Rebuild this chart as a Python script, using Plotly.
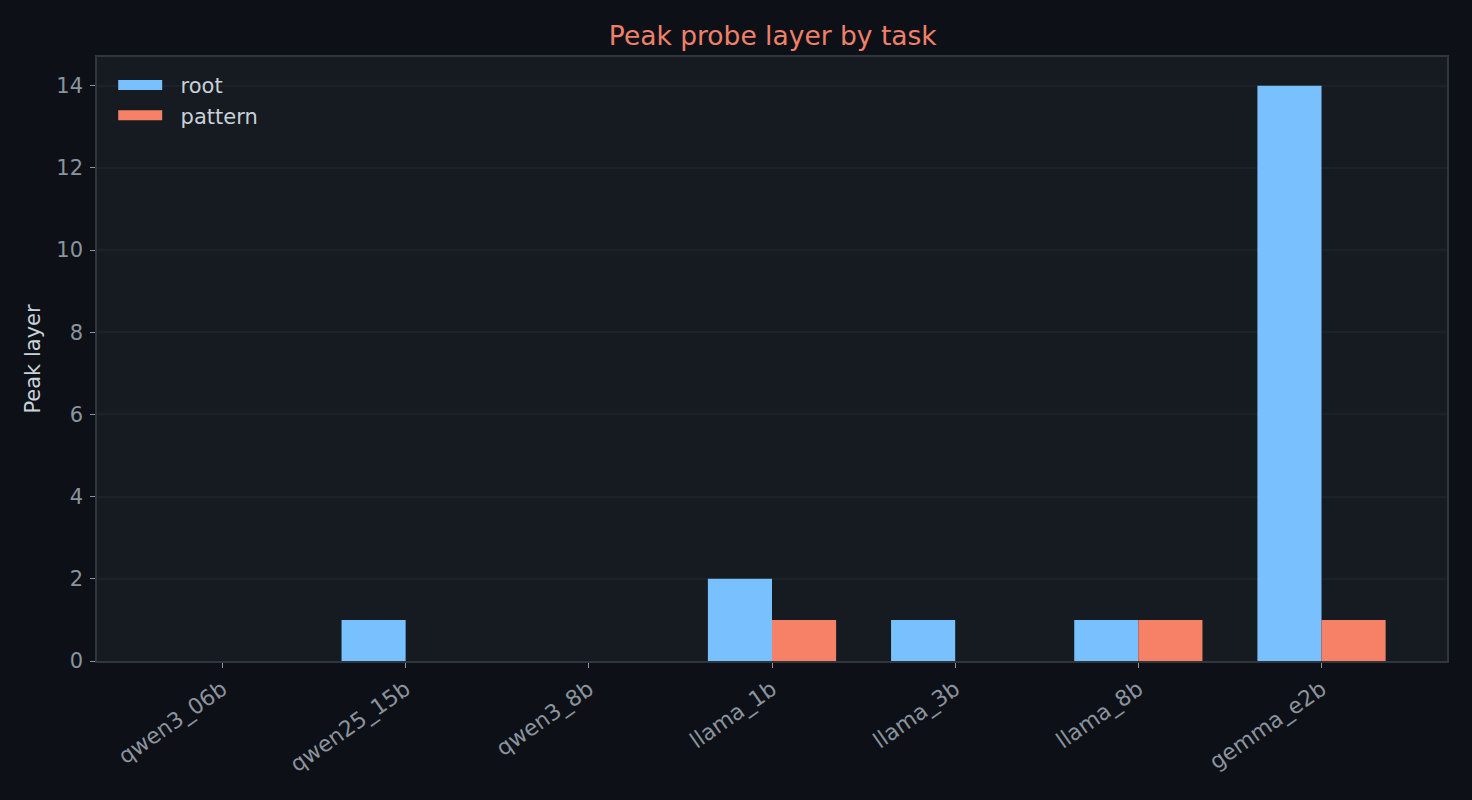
import plotly.graph_objects as go

categories = ["qwen3_06b", "qwen25_15b", "qwen3_8b", "llama_1b", "llama_3b", "llama_8b", "gemma_e2b"]
root_values = [0, 1, 0, 2, 1, 1, 14]
pattern_values = [0, 0, 0, 1, 0, 1, 1]
series_names = ["root", "pattern"]
series_colors = ["#79c0ff", "#f78166"]

grid_col = "rgba(48,54,61,0.25)"
tick_col = "#8b949e"
pad = "\u00a0\u00a0"

fig = go.Figure()
for name, vals, col in zip(series_names, [root_values, pattern_values], series_colors):
    fig.add_trace(go.Bar(x=categories, y=vals, name=name, showlegend=False,
                         legendgroup=name,
                         marker=dict(color=col, line=dict(width=0))))
# legend swatches (wide rectangles like the reference)
for name, col in zip(series_names, series_colors):
    fig.add_trace(go.Scatter(x=[None], y=[None], name=pad + name, mode="lines",
                             legendgroup=name,
                             line=dict(color=col, width=15)))

fig.update_layout(
    width=1472, height=800,
    paper_bgcolor="#0d1117",
    plot_bgcolor="#161b22",
    barmode="group", bargap=0.3, bargroupgap=0,
    margin=dict(l=97, r=25, t=57, b=139),
    font=dict(family="DejaVu Sans", color="#c9d1d9", size=21),
    title=dict(text="Peak probe layer by task", x=0.525, xanchor="center",
               y=1 - 36 / 800, yanchor="middle",
               font=dict(size=26.5, color="#f0806a", family="DejaVu Sans")),
    legend=dict(x=0.012, y=0.987, xanchor="left", yanchor="top",
                bgcolor="rgba(0,0,0,0)", font=dict(size=21, color="#c9d1d9"),
                itemwidth=44, tracegroupgap=0),
    showlegend=True,
)
fig.update_xaxes(
    range=[-0.685, 6.685], showgrid=False,
    showline=True, linecolor="#30363d", linewidth=1.5, mirror=True,
    ticks="outside", ticklen=5, tickcolor=tick_col, tickwidth=1.2,
    tickangle=-35, tickfont=dict(size=22, color=tick_col),
    layer="above traces",
)
fig.update_yaxes(
    range=[0, 14.7], dtick=2, tick0=0,
    showgrid=True, gridcolor=grid_col, gridwidth=1.5, zeroline=False,
    showline=True, linecolor="#30363d", linewidth=1.5, mirror=True,
    ticks="outside", ticklen=5, tickcolor=tick_col, tickwidth=1.2,
    tickfont=dict(size=21, color=tick_col), ticklabelstandoff=3,
    title=dict(text="Peak layer", font=dict(size=21, color="#c9d1d9"), standoff=10),
    layer="above traces",
)

fig.write_html("out.html")
